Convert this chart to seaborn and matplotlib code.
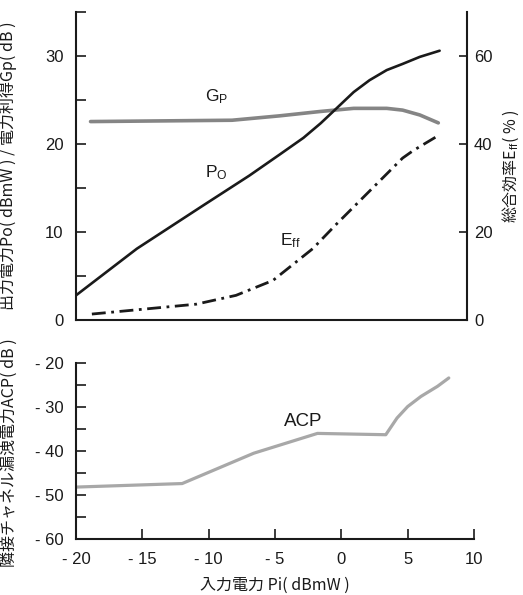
import numpy as np
import pandas as pd
import matplotlib
matplotlib.use("Agg")
import matplotlib.pyplot as plt
import seaborn as sns

# ---- data ----
pi_gp = [-18.9, -8.2, -4.6, -1.5, 1.0, 3.5, 4.7, 6.0, 7.4]
gp = [22.55, 22.7, 23.2, 23.7, 24.05, 24.05, 23.85, 23.3, 22.4]

pi_po = [-20.0, -15.4, -10.4, -6.9, -4.6, -2.8, -1.5, -0.3, 1.0, 2.2, 3.5, 4.7, 6.0, 7.5]
po = [2.8, 8.1, 13.0, 16.4, 18.8, 20.7, 22.35, 24.05, 25.9, 27.25, 28.4, 29.1, 29.9, 30.6]

pi_eff = [-18.8, -10.9, -7.9, -5.1, -2.1, -0.3, 2.2, 4.7, 5.5, 7.5]
eff = [1.35, 3.6, 5.6, 9.0, 16.2, 21.8, 29.3, 36.8, 38.5, 42.1]

pi_acp = [-20.0, -12.0, -6.6, -1.8, 3.35, 4.2, 5.0, 6.0, 7.25, 8.1]
acp = [-48.2, -47.4, -40.5, -36.0, -36.3, -32.5, -29.9, -27.6, -25.3, -23.4]

left_ticks_top = [0, 10, 20, 30]
right_ticks_top = [20, 40, 60]
acp_ticks = [-60, -50, -40, -30, -20]
pi_ticks = [-20, -15, -10, -5, 0, 5, 10]

sns.set_style("ticks")
plt.rcParams['font.family'] = ['Liberation Sans', 'Noto Sans CJK JP', 'DejaVu Sans']
plt.rcParams['mathtext.fontset'] = 'custom'
plt.rcParams['mathtext.rm'] = 'Liberation Sans'
plt.rcParams['mathtext.it'] = 'Liberation Sans'

jp = ['Noto Sans CJK JP', 'DejaVu Sans']

def fmt(v):
    return f"- {abs(v)}" if v < 0 else f"{v}"

fig = plt.figure(figsize=(5.23, 5.95), dpi=100)
ax1 = fig.add_axes([76/523, 1-320/595, (467-76)/523, (320-12)/595])
ax2 = ax1.twinx()
ax3 = fig.add_axes([76/523, 1-539/595, (474-76)/523, (539-363)/595])

black = '#1a1a1a'
df_gp = pd.DataFrame({'pi': pi_gp, 'v': gp})
df_po = pd.DataFrame({'pi': pi_po, 'v': po})
df_eff = pd.DataFrame({'pi': pi_eff, 'v': eff})
df_acp = pd.DataFrame({'pi': pi_acp, 'v': acp})

sns.lineplot(data=df_gp, x='pi', y='v', ax=ax1, color='#858585', lw=2.6, sort=False, estimator=None)
sns.lineplot(data=df_po, x='pi', y='v', ax=ax1, color=black, lw=1.9, sort=False, estimator=None)
sns.lineplot(data=df_eff, x='pi', y='v', ax=ax2, color=black, lw=2.0, sort=False, estimator=None)
ax2.lines[0].set_dashes((5, 2, 1, 2))
sns.lineplot(data=df_acp, x='pi', y='v', ax=ax3, color='#a8a8a8', lw=2.3, sort=False, estimator=None)

# top axes
ax1.set_xlim(-20, 9.57)
ax1.set_ylim(0, 35)
ax2.set_ylim(0, 70)
ax1.set_yticks(np.arange(0, 36, 5))
ax1.set_yticklabels([str(t) if t in left_ticks_top else '' for t in range(0, 36, 5)])
ax2.set_yticks([0] + right_ticks_top)
ax2.set_yticklabels(['0'] + [str(t) for t in right_ticks_top])
ax1.set_xticks([])
for s in ['top', 'right']:
    ax1.spines[s].set_visible(False)
for s in ['top', 'left', 'bottom']:
    ax2.spines[s].set_visible(False)
for s in ['left', 'bottom']:
    ax1.spines[s].set_linewidth(1.5)
    ax1.spines[s].set_color(black)
ax2.spines['right'].set_linewidth(1.5)
ax2.spines['right'].set_color(black)
ax1.tick_params(axis='y', direction='in', length=7, width=1.2, labelsize=12, pad=9, colors=black)
ax2.tick_params(axis='y', direction='in', length=6, width=1.2, labelsize=12, pad=5, colors=black)
ax1.set_xlabel('')
ax1.set_ylabel('出力電力Po( dBmW ) / 電力利得Gp( dB )', family=jp, fontsize=11.5, color=black)
ax1.yaxis.set_label_coords(-0.15, 0.5)
ax2.set_ylabel('総合効率E$_{\\mathrm{ff}}$( % )', family=jp, fontsize=11.5, color=black, rotation=90)
ax2.yaxis.set_label_coords(1.085, 0.5)

ax1.text(-9.4, 25.4, 'G$_{\\mathrm{P}}$', fontsize=12.5, ha='center', va='center', color=black)
ax1.text(-9.4, 16.7, 'P$_{\\mathrm{O}}$', fontsize=12.5, ha='center', va='center', color=black)
ax1.text(-3.8, 9.0, 'E$_{\\mathrm{ff}}$', fontsize=12.5, ha='center', va='center', color=black)

# bottom axes
ax3.set_xlim(-20, 10)
ax3.set_ylim(-60, -20)
ax3.set_xticks(pi_ticks)
ax3.set_xticklabels([fmt(t) for t in pi_ticks])
ax3.set_yticks(np.arange(-60, -19, 5))
ax3.set_yticklabels([fmt(t) if t in acp_ticks else '' for t in range(-60, -19, 5)])
for s in ['top', 'right']:
    ax3.spines[s].set_visible(False)
for s in ['left', 'bottom']:
    ax3.spines[s].set_linewidth(1.5)
    ax3.spines[s].set_color(black)
ax3.tick_params(axis='both', direction='in', length=7, width=1.2, labelsize=12, colors=black)
ax3.tick_params(axis='y', pad=9)
ax3.tick_params(axis='x', pad=9)
ax3.set_xlabel('入力電力 Pi( dBmW )', family=jp, fontsize=11.5, color=black)
ax3.xaxis.set_label_coords(0.5, -0.215)
ax3.set_ylabel('隣接チャネル漏洩電力ACP( dB )', family=jp, fontsize=11.5, color=black)
ax3.yaxis.set_label_coords(-0.145, 0.49)
ax3.text(-2.9, -33.3, 'ACP', fontsize=13.5, ha='center', va='center', color=black)

fig.savefig('out.png', dpi=100)
